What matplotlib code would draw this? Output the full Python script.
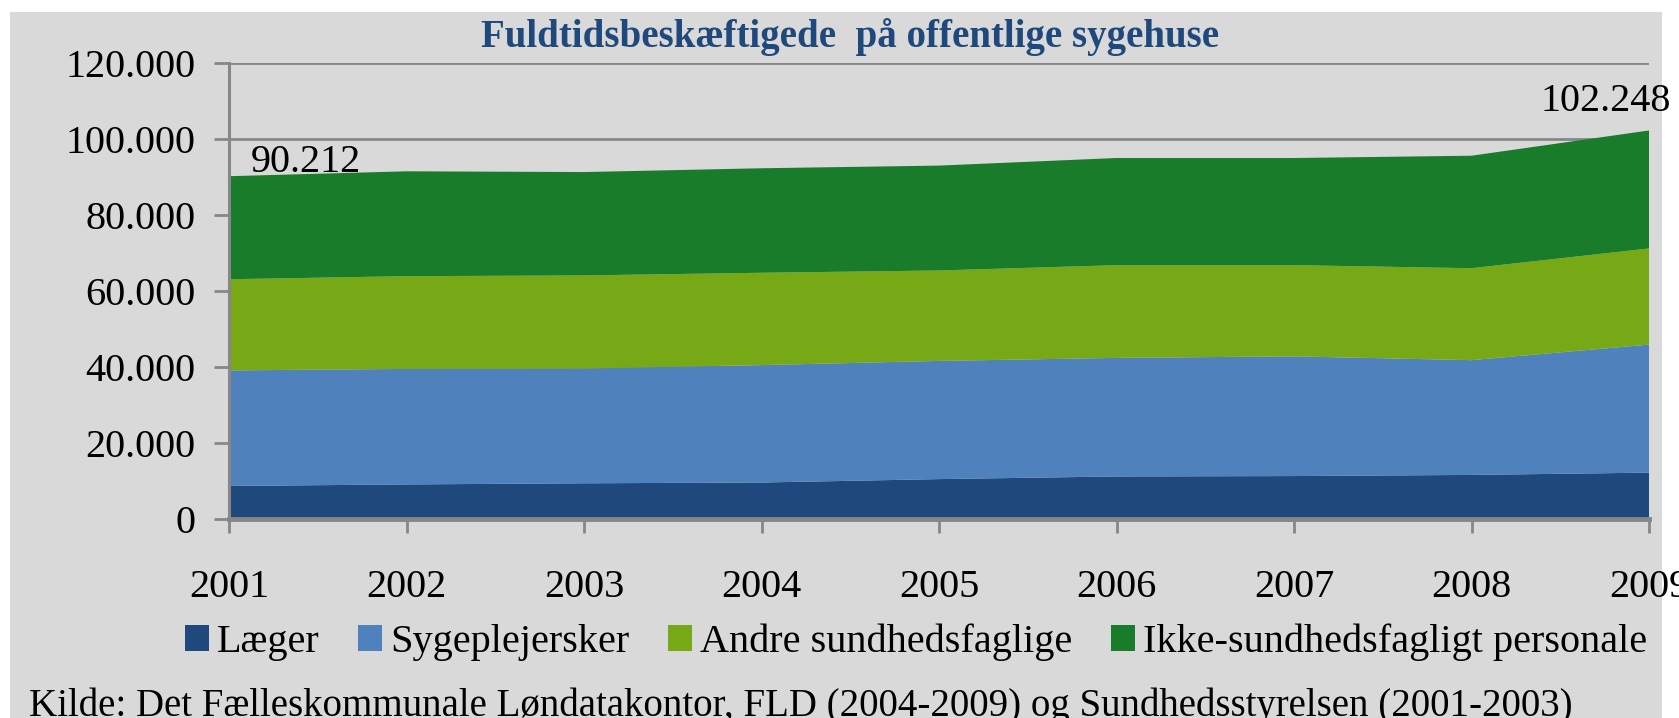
import matplotlib
matplotlib.use("Agg")
import matplotlib.pyplot as plt
from matplotlib.patches import Rectangle, Patch
from matplotlib.ticker import FuncFormatter
import numpy as np

years = ['2001', '2002', '2003', '2004', '2005', '2006', '2007', '2008', '2009']
laeger = [8700, 9100, 9400, 9600, 10500, 11200, 11300, 11600, 12200]
sygeplejersker = [30400, 30400, 30200, 30900, 31100, 31200, 31500, 30200, 33700]
andre = [24000, 24400, 24500, 24300, 23800, 24400, 24000, 24200, 25300]
ikke = [27112, 27600, 27200, 27500, 27600, 28200, 28200, 29600, 31048]
labels = ['Læger', 'Sygeplejersker', 'Andre sundhedsfaglige', 'Ikke-sundhedsfagligt personale']
colors = ['#1F497D', '#4F81BD', '#77A815', '#187C2B']

title = 'Fuldtidsbeskæftigede  på offentlige sygehuse'
kilde = 'Kilde: Det Fælleskommunale Løndatakontor, FLD (2004-2009) og Sundhedsstyrelsen (2001-2003)'

BG = '#D9D9D9'
GRID = '#878787'
W, H = 1679, 718
FS = 29

plt.rcParams['font.family'] = 'Liberation Serif'

fig = plt.figure(figsize=(W / 100, H / 100), dpi=100)
fig.patch.set_facecolor('white')
fig.add_artist(Rectangle((10 / W, 0), 1652 / W, 1 - 12 / H, transform=fig.transFigure,
                         facecolor=BG, edgecolor='none', zorder=-10))

ax = fig.add_axes([229 / W, (H - 519) / H, 1420 / W, 456 / H])
ax.set_facecolor('none')

x = np.arange(len(years))
ax.stackplot(x, laeger, sygeplejersker, andre, ikke, colors=colors, linewidth=0, zorder=2)

ax.set_xlim(0, len(years) - 1)
ax.set_ylim(0, 120000)
ax.set_yticks(np.arange(0, 120001, 20000))
ax.yaxis.set_major_formatter(FuncFormatter(lambda v, p: '0' if v == 0 else f'{int(v):,}'.replace(',', '.')))
ax.set_xticks(x)
ax.set_xticklabels(years)

# gridlinjer bag arealerne
ax.grid(axis='y', color=GRID, lw=2, zorder=1)
ax.set_axisbelow(True)
for s in ['top', 'right']:
    ax.spines[s].set_visible(False)
ax.spines['left'].set_color(GRID)
ax.spines['left'].set_linewidth(2.2)
ax.spines['bottom'].set_color(GRID)
ax.spines['bottom'].set_linewidth(3.5)
ax.spines['bottom'].set_zorder(3)
ax.tick_params(axis='y', length=11, width=2, color=GRID, pad=13, labelsize=FS)
ax.tick_params(axis='x', length=10, width=2, color=GRID, pad=26, labelsize=FS)

totals = np.array(laeger) + np.array(sygeplejersker) + np.array(andre) + np.array(ikke)
ax.annotate(f'{totals[0]:,}'.replace(',', '.'), xy=(x[0], totals[0]), xytext=(16, 3),
            textcoords='offset points', ha='left', va='baseline', fontsize=FS, annotation_clip=False)
ax.annotate(f'{totals[-1]:,}'.replace(',', '.'), xy=(x[-1], totals[-1]), xytext=(16, 14),
            textcoords='offset points', ha='right', va='baseline', fontsize=FS, annotation_clip=False)

fig.text(850 / W, 1 - 37 / H, title, ha='center', va='center', fontsize=28,
         fontweight='bold', color='#1F497D')

handles = [Patch(facecolor=c, edgecolor='none') for c in colors]
fig.legend(handles, labels, loc='center left', bbox_to_anchor=(185 / W, 1 - 642 / H), ncol=4,
           frameon=False, fontsize=FS, borderpad=0, borderaxespad=0, handlelength=0.6,
           handleheight=0.62, handletextpad=0.2, columnspacing=0.95)

fig.text(29 / W, 1 - 706 / H, kilde, ha='left', va='center', fontsize=28)

plt.savefig('out.png', dpi=100)
